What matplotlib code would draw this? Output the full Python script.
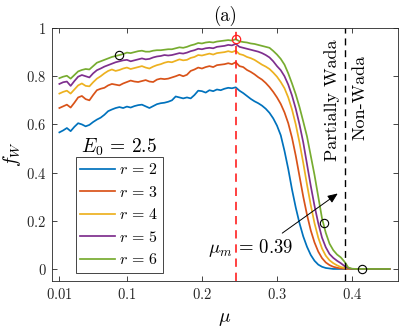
import matplotlib
matplotlib.use("Agg")
import matplotlib.pyplot as plt

plt.rcParams['mathtext.fontset'] = 'cm'
plt.rcParams['font.family'] = ['DejaVu Serif']

mu = [0.010, 0.015, 0.020, 0.025, 0.030, 0.035, 0.040, 0.045, 0.050, 0.055,
      0.060, 0.065, 0.070, 0.075, 0.080, 0.085, 0.090, 0.095, 0.100, 0.105,
      0.110, 0.115, 0.120, 0.125, 0.130, 0.135, 0.140, 0.145, 0.150, 0.155,
      0.160, 0.165, 0.170, 0.175, 0.180, 0.185, 0.190, 0.195, 0.200, 0.205,
      0.210, 0.215, 0.220, 0.225, 0.230, 0.235, 0.240, 0.245, 0.250, 0.255,
      0.260, 0.265, 0.270, 0.275, 0.280, 0.285, 0.290, 0.295, 0.300, 0.305,
      0.310, 0.315, 0.320, 0.325, 0.330, 0.335, 0.340, 0.345, 0.350, 0.355,
      0.360, 0.365, 0.370, 0.375, 0.380, 0.385, 0.390, 0.395, 0.400, 0.405,
      0.410, 0.415, 0.420, 0.425, 0.430, 0.435, 0.440, 0.445, 0.450]

f_r2 = [0.567, 0.575, 0.585, 0.572, 0.590, 0.605, 0.600, 0.592, 0.598, 0.610,
        0.620, 0.628, 0.640, 0.655, 0.662, 0.668, 0.672, 0.668, 0.674, 0.670,
        0.676, 0.680, 0.682, 0.675, 0.668, 0.676, 0.684, 0.688, 0.690, 0.694,
        0.700, 0.716, 0.712, 0.708, 0.712, 0.708, 0.722, 0.740, 0.738, 0.732,
        0.742, 0.738, 0.745, 0.742, 0.748, 0.752, 0.750, 0.754, 0.740, 0.730,
        0.718, 0.706, 0.696, 0.688, 0.678, 0.665, 0.648, 0.625, 0.595, 0.555,
        0.490, 0.415, 0.330, 0.255, 0.190, 0.135, 0.092, 0.058, 0.034, 0.018,
        0.009, 0.004, 0.002, 0.000, 0.000, 0.000, 0.000, 0.000, 0.000, 0.000,
        0.000, 0.000, 0.000, 0.000, 0.000, 0.000, 0.000, 0.000, 0.000]

f_r3 = [0.668, 0.675, 0.682, 0.670, 0.690, 0.712, 0.718, 0.705, 0.700, 0.722,
        0.742, 0.748, 0.752, 0.762, 0.768, 0.765, 0.762, 0.770, 0.776, 0.782,
        0.778, 0.776, 0.780, 0.784, 0.778, 0.776, 0.786, 0.790, 0.788, 0.790,
        0.795, 0.800, 0.806, 0.800, 0.806, 0.822, 0.828, 0.836, 0.832, 0.838,
        0.842, 0.838, 0.846, 0.848, 0.850, 0.854, 0.850, 0.858, 0.842, 0.838,
        0.826, 0.818, 0.808, 0.796, 0.786, 0.772, 0.755, 0.735, 0.712, 0.685,
        0.650, 0.605, 0.545, 0.470, 0.385, 0.300, 0.225, 0.160, 0.110, 0.072,
        0.045, 0.027, 0.016, 0.009, 0.005, 0.002, 0.001, 0.000, 0.000, 0.000,
        0.000, 0.000, 0.000, 0.000, 0.000, 0.000, 0.000, 0.000, 0.000]

f_r4 = [0.728, 0.735, 0.740, 0.728, 0.745, 0.762, 0.770, 0.760, 0.758, 0.775,
        0.790, 0.800, 0.812, 0.822, 0.828, 0.822, 0.826, 0.832, 0.836, 0.830,
        0.834, 0.838, 0.842, 0.836, 0.832, 0.840, 0.846, 0.850, 0.856, 0.860,
        0.858, 0.864, 0.870, 0.866, 0.868, 0.876, 0.880, 0.888, 0.886, 0.890,
        0.894, 0.890, 0.896, 0.898, 0.900, 0.904, 0.900, 0.906, 0.892, 0.888,
        0.880, 0.875, 0.868, 0.858, 0.848, 0.840, 0.830, 0.815, 0.798, 0.776,
        0.750, 0.712, 0.662, 0.600, 0.525, 0.440, 0.350, 0.265, 0.190, 0.130,
        0.085, 0.055, 0.036, 0.024, 0.015, 0.008, 0.004, 0.001, 0.000, 0.000,
        0.000, 0.000, 0.000, 0.000, 0.000, 0.000, 0.000, 0.000, 0.000]

f_r5 = [0.768, 0.775, 0.778, 0.760, 0.780, 0.798, 0.805, 0.800, 0.795, 0.812,
        0.825, 0.832, 0.840, 0.846, 0.852, 0.858, 0.862, 0.866, 0.868, 0.862,
        0.866, 0.870, 0.874, 0.870, 0.872, 0.878, 0.882, 0.884, 0.888, 0.886,
        0.888, 0.892, 0.896, 0.894, 0.898, 0.904, 0.908, 0.914, 0.912, 0.916,
        0.918, 0.916, 0.922, 0.924, 0.926, 0.930, 0.928, 0.934, 0.922, 0.918,
        0.914, 0.910, 0.906, 0.902, 0.896, 0.888, 0.878, 0.862, 0.842, 0.825,
        0.800, 0.765, 0.720, 0.665, 0.600, 0.525, 0.435, 0.345, 0.262, 0.190,
        0.130, 0.090, 0.062, 0.046, 0.034, 0.024, 0.012, 0.003, 0.000, 0.000,
        0.000, 0.000, 0.000, 0.000, 0.000, 0.000, 0.000, 0.000, 0.000]

f_r6 = [0.792, 0.798, 0.802, 0.790, 0.805, 0.820, 0.826, 0.830, 0.828, 0.842,
        0.856, 0.862, 0.868, 0.874, 0.880, 0.884, 0.888, 0.892, 0.898, 0.896,
        0.900, 0.904, 0.906, 0.902, 0.902, 0.906, 0.908, 0.908, 0.910, 0.912,
        0.912, 0.916, 0.920, 0.918, 0.922, 0.928, 0.932, 0.938, 0.936, 0.940,
        0.942, 0.940, 0.944, 0.946, 0.948, 0.950, 0.948, 0.954, 0.945, 0.942,
        0.940, 0.936, 0.934, 0.930, 0.926, 0.922, 0.918, 0.905, 0.890, 0.872,
        0.848, 0.812, 0.770, 0.725, 0.672, 0.612, 0.550, 0.470, 0.390, 0.300,
        0.210, 0.150, 0.105, 0.078, 0.060, 0.048, 0.030, 0.006, 0.001, 0.000,
        0.000, 0.000, 0.000, 0.000, 0.000, 0.000, 0.000, 0.000, 0.000]

series = [f_r2, f_r3, f_r4, f_r5, f_r6]
labels = [r'$r\,=\,2$', r'$r\,=\,3$', r'$r\,=\,4$', r'$r\,=\,5$', r'$r\,=\,6$']
colors = ['#0072BD', '#D95319', '#EDB120', '#7E2F8E', '#77AC30']

circle_mu = [0.089, 0.362, 0.413]
circle_f = [0.888, 0.19, 0.0]
peak_mu = 0.245
peak_f = 0.954
mu_m = 0.39

x_ticks = [0.01, 0.1, 0.2, 0.3, 0.4]
x_tick_labels = ['$0.01$', '$0.1$', '$0.2$', '$0.3$', '$0.4$']
y_ticks = [0, 0.2, 0.4, 0.6, 0.8, 1]
y_tick_labels = ['$0$', '$0.2$', '$0.4$', '$0.6$', '$0.8$', '$1$']

fig = plt.figure(figsize=(3.99, 3.30), dpi=100)
ax = fig.add_axes([0.130, 0.1485, 0.867, 0.7665])

lines = []
for f, lab, c in zip(series, labels, colors):
    ln, = ax.plot(mu, f, color=c, lw=1.25, label=lab)
    lines.append(ln)

ax.axvline(peak_mu, color='#ff2020', ls=(0, (5, 3.5)), lw=1.2)
ax.axvline(mu_m, color='black', ls=(0, (5, 3.5)), lw=1.0)

ax.plot(circle_mu, circle_f, 'o', ms=6, mfc='none', mec='black', mew=0.8)
ax.plot([peak_mu], [peak_f], 'o', ms=6, mfc='none', mec='#ff2020', mew=0.9)

ax.set_xlim(0, 0.461)
ax.set_ylim(-0.05, 1.0)
ax.set_xticks(x_ticks)
ax.set_xticklabels(x_tick_labels, fontsize=10.5)
ax.set_yticks(y_ticks)
ax.set_yticklabels(y_tick_labels, fontsize=10.5)
ax.tick_params(direction='in', length=3.5, width=0.6, top=True, right=True,
               colors='#262626', pad=4)
for s in ax.spines.values():
    s.set_linewidth(0.6)
    s.set_color('#262626')

ax.set_xlabel(r'$\mu$', fontsize=14, labelpad=6)
ax.set_ylabel(r'$f_W$', fontsize=14, labelpad=2)
ax.set_title('(a)', fontsize=13.5, pad=5, fontfamily='cmr10')

ax.text(0.373, 0.70, 'Partially Wada', rotation=90, fontfamily='cmr10',
        ha='center', va='center', fontsize=13)
ax.text(0.410, 0.71, 'Non-Wada', rotation=90, fontfamily='cmr10',
        ha='center', va='center', fontsize=13)

ax.annotate('', xy=(0.384, 0.32), xytext=(0.304, 0.142),
            arrowprops=dict(arrowstyle='-|>,head_length=0.6,head_width=0.25',
                            color='black', lw=0.7))
ax.text(0.265, 0.087, r'$\mu_m\,=\,0.39$', ha='center', va='center', fontsize=13.5)

LEG_FS = 11.5


def build_legend(ls, bp):
    old = ax.get_legend()
    if old is not None:
        old.remove()
    lg = ax.legend(handles=lines, loc='lower left', bbox_to_anchor=(0.069, 0.032),
                   borderaxespad=0, fontsize=LEG_FS, handlelength=2.2,
                   handletextpad=0.2, labelspacing=ls, borderpad=bp,
                   fancybox=False, edgecolor='#262626', framealpha=1)
    lg.get_frame().set_linewidth(0.6)
    fig.canvas.draw()
    r = fig.canvas.get_renderer()
    bb = lg.get_window_extent(r)
    ys = [t.get_window_extent(r) for t in lg.get_texts()]
    cy = [(b.y0 + b.y1) / 2 for b in ys]
    pitch = (cy[0] - cy[-1]) / (len(cy) - 1)
    return lg, bb.height, pitch


# fit legend layout to the reference box (row pitch 22.5 px, height 116 px)
_, h1, p1 = build_legend(0.3, 0.3)
_, h2, p2 = build_legend(0.8, 0.3)
ls = 0.3 + (22.5 - p1) * (0.5 / (p2 - p1))
_, h3, p3 = build_legend(ls, 0.3)
fs_px = LEG_FS * fig.dpi / 72.0
bp = max(0.05, 0.3 + (116.0 - h3) / (2 * fs_px))
leg, _, _ = build_legend(ls, bp)

ax.text(0.1925, 0.53, r'$E_0\,=\,2.5$', transform=ax.transAxes,
        ha='center', va='center', fontsize=14)

fig.savefig('out.png', dpi=100)
